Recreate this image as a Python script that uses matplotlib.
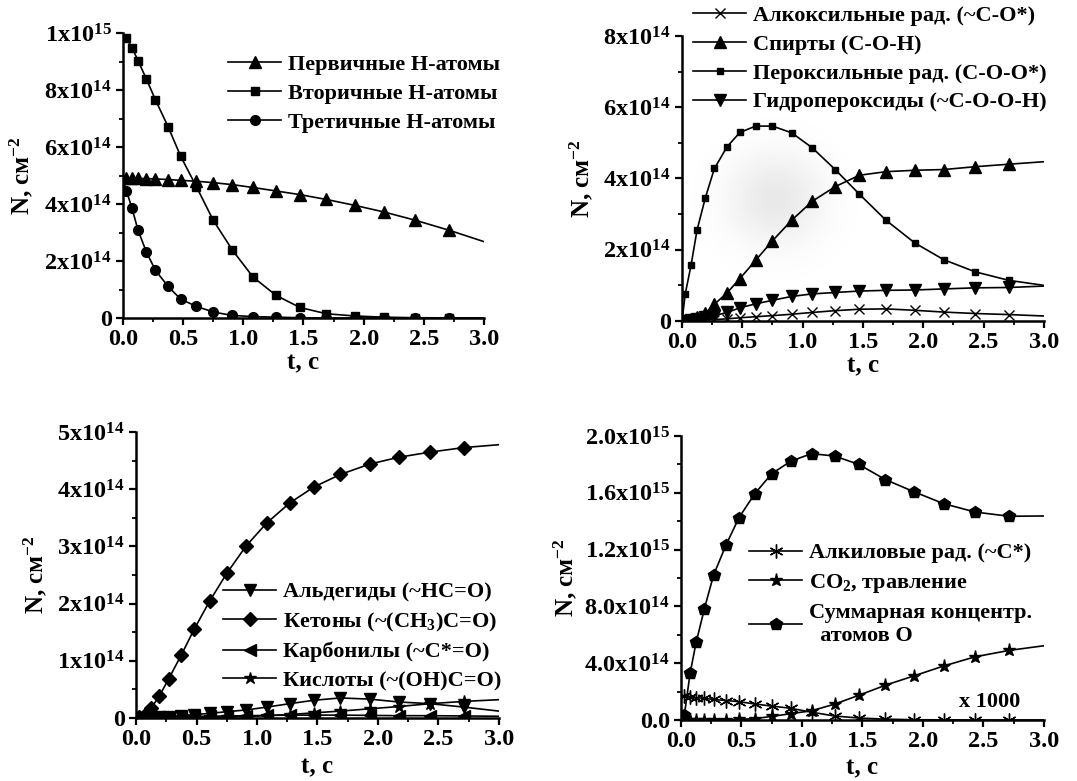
import numpy as np
import matplotlib
matplotlib.use("Agg")
import matplotlib.pyplot as plt
from matplotlib.ticker import MultipleLocator

plt.rcParams["font.family"] = ["Liberation Serif", "DejaVu Serif"]
plt.rcParams["font.weight"] = "bold"
plt.rcParams["mathtext.fontset"] = "custom"
plt.rcParams["mathtext.rm"] = "Liberation Serif:bold"
plt.rcParams["mathtext.bf"] = "Liberation Serif:bold"
plt.rcParams["mathtext.default"] = "bf"

# time grid of the calculation (markers at every point except first and last)
t = [0.0, 0.028, 0.075, 0.125, 0.194, 0.269, 0.374, 0.48, 0.61, 0.75,
     0.91, 1.08, 1.27, 1.47, 1.69, 1.93, 2.17, 2.43, 2.71, 3.0]

# panel 1: H atoms, units of 1e14 cm^-2
primary_h = [4.92, 4.92, 4.91, 4.90, 4.89, 4.88, 4.86, 4.83, 4.80, 4.75,
             4.68, 4.58, 4.46, 4.33, 4.16, 3.95, 3.72, 3.43, 3.08, 2.68]
secondary_h = [10.0, 9.82, 9.49, 9.03, 8.39, 7.66, 6.72, 5.67, 4.61, 3.43,
               2.38, 1.44, 0.80, 0.37, 0.15, 0.07, 0.03, 0.01, 0.005, 0.0]
tertiary_h = [4.9, 4.47, 3.85, 3.08, 2.32, 1.68, 1.11, 0.66, 0.41, 0.21,
              0.09, 0.05, 0.03, 0.01, 0.0, 0.0, 0.0, 0.0, 0.0, 0.0]

# panel 2
alkoxyl = [0.0, 0.005, 0.01, 0.02, 0.03, 0.04, 0.06, 0.09, 0.12, 0.15,
           0.19, 0.24, 0.29, 0.33, 0.34, 0.30, 0.25, 0.21, 0.18, 0.14]
alcohols = [0.0, 0.02, 0.06, 0.11, 0.22, 0.47, 0.79, 1.19, 1.70, 2.25,
            2.83, 3.36, 3.77, 4.09, 4.19, 4.23, 4.25, 4.33, 4.40, 4.47]
peroxyl = [0.0, 0.77, 1.56, 2.55, 3.46, 4.28, 4.89, 5.29, 5.47, 5.47,
           5.28, 4.86, 4.25, 3.56, 2.83, 2.19, 1.72, 1.38, 1.14, 1.00]
hydroperox = [0.0, 0.01, 0.03, 0.06, 0.10, 0.15, 0.24, 0.37, 0.48, 0.58,
              0.69, 0.76, 0.80, 0.84, 0.86, 0.87, 0.90, 0.93, 0.94, 0.98]

# panel 3
aldehydes = [0.0, 0.0, 0.005, 0.01, 0.015, 0.025, 0.04, 0.06, 0.08, 0.11,
             0.14, 0.19, 0.25, 0.31, 0.35, 0.33, 0.28, 0.25, 0.19, 0.12]
ketones = [0.0, 0.01, 0.06, 0.17, 0.39, 0.68, 1.10, 1.55, 2.05, 2.53,
           3.01, 3.41, 3.76, 4.04, 4.26, 4.44, 4.56, 4.65, 4.73, 4.78]
carbonyls = [0.0, 0.01, 0.01, 0.015, 0.02, 0.02, 0.025, 0.03, 0.03, 0.035,
             0.04, 0.045, 0.05, 0.05, 0.05, 0.045, 0.04, 0.04, 0.035, 0.03]
acids = [0.0, 0.0, 0.0, 0.0, 0.0, 0.0, 0.002, 0.005, 0.01, 0.015,
         0.025, 0.04, 0.06, 0.09, 0.12, 0.16, 0.20, 0.25, 0.29, 0.32]

# panel 4
alkyl = [1.70, 1.68, 1.64, 1.58, 1.52, 1.45, 1.37, 1.29, 1.13, 0.98,
         0.82, 0.55, 0.28, 0.14, 0.06, 0.02, 0.01, 0.0, 0.0, 0.0]
co2 = [0.0, 0.0, 0.005, 0.01, 0.01, 0.015, 0.02, 0.04, 0.10, 0.25,
       0.45, 0.65, 1.12, 1.74, 2.45, 3.12, 3.80, 4.45, 4.90, 5.23]
total_o = [0.0, 0.35, 3.28, 5.46, 7.85, 10.2, 12.36, 14.26, 15.94, 17.35,
           18.24, 18.76, 18.59, 18.0, 16.93, 16.06, 15.24, 14.65, 14.35, 14.37]

xticks = [0.0, 0.5, 1.0, 1.5, 2.0, 2.5, 3.0]
xticklabels = ["0.0", "0.5", "1.0", "1.5", "2.0", "2.5", "3.0"]

p1_yticks = [0, 2e14, 4e14, 6e14, 8e14, 1e15]
p1_ylabels = ["0", "2x10$^{14}$", "4x10$^{14}$", "6x10$^{14}$", "8x10$^{14}$", "1x10$^{15}$"]
p2_yticks = [0, 2e14, 4e14, 6e14, 8e14]
p2_ylabels = ["0", "2x10$^{14}$", "4x10$^{14}$", "6x10$^{14}$", "8x10$^{14}$"]
p3_yticks = [0, 1e14, 2e14, 3e14, 4e14, 5e14]
p3_ylabels = ["0", "1x10$^{14}$", "2x10$^{14}$", "3x10$^{14}$", "4x10$^{14}$", "5x10$^{14}$"]
p4_yticks = [0, 4e14, 8e14, 1.2e15, 1.6e15, 2.0e15]
p4_ylabels = ["0.0", "4.0x10$^{14}$", "8.0x10$^{14}$", "1.2x10$^{15}$", "1.6x10$^{15}$", "2.0x10$^{15}$"]

SCALE = 1e14
every = slice(1, 19)
tick_fs = 17.5
leg_fs = 16
lab_fs = 18


def setup_axes(ax, yticks, ylabels, yminor, ylabel_x, xlabel_y):
    for s in ["top", "right"]:
        ax.spines[s].set_visible(False)
    for s in ["left", "bottom"]:
        ax.spines[s].set_linewidth(1.8)
    ax.set_xlim(0, 3.0)
    ax.set_ylim(0, yticks[-1])
    ax.set_xticks(xticks)
    ax.set_xticklabels(xticklabels, fontsize=tick_fs, fontweight="bold")
    ax.set_yticks(yticks)
    ax.set_yticklabels(ylabels, fontsize=tick_fs, fontweight="bold")
    ax.xaxis.set_minor_locator(MultipleLocator(0.25))
    ax.yaxis.set_minor_locator(MultipleLocator(yminor))
    ax.tick_params(which="major", direction="out", length=5, width=1.6, pad=3)
    ax.tick_params(which="minor", direction="out", length=3, width=1.3)
    ax.set_xlabel("t, c", fontsize=lab_fs, fontweight="bold", va="center")
    ax.set_ylabel("N, см$^{-2}$", fontsize=lab_fs, fontweight="bold")
    ax.xaxis.set_label_coords(0.5, xlabel_y)
    ax.yaxis.set_label_coords(ylabel_x, 0.5)


def curve(ax, y, marker, label, ms):
    ax.plot(t, np.array(y) * SCALE, color="black", lw=1.2, marker=marker,
            ms=ms, markevery=every, label=label, mec="black", mfc="black")


def legend(ax, x, y):
    ax.legend(loc="upper left", bbox_to_anchor=(x, y),
              bbox_transform=fig.transFigure, frameon=False, fontsize=leg_fs,
              handlelength=2.4, handletextpad=0.3, labelspacing=0.37,
              borderpad=0, borderaxespad=0)


fig = plt.figure(figsize=(10.77, 7.81), dpi=100)

ax1 = fig.add_axes([0.1142, 0.5928, 0.3352, 0.3649])
curve(ax1, primary_h, "^", "Первичные Н-атомы", 8)
curve(ax1, secondary_h, "s", "Вторичные Н-атомы", 6)
curve(ax1, tertiary_h, "o", "Третичные Н-атомы", 7)
setup_axes(ax1, p1_yticks, p1_ylabels, 1e14, -0.245, -0.158)
legend(ax1, 0.2117, 0.930)

ax2 = fig.add_axes([0.6332, 0.589, 0.3361, 0.365])
# faint grey smudge from the scanned original
gy, gx = np.mgrid[-1:1:120j, -1:1:120j]
shade = np.zeros((120, 120, 4))
shade[..., 3] = 0.09 * np.exp(-(gx ** 2 + gy ** 2) / 0.3)
ax2.imshow(shade, extent=[0.05, 1.5, 1.0e14, 5.8e14], aspect="auto", zorder=0)
curve(ax2, alkoxyl, "x", "Алкоксильные рад. (~С-О*)", 7.5)
curve(ax2, alcohols, "^", "Спирты (С-О-Н)", 8)
curve(ax2, peroxyl, "s", "Пероксильные рад. (С-О-О*)", 5)
curve(ax2, hydroperox, "v", "Гидропероксиды (~С-О-О-Н)", 8)
setup_axes(ax2, p2_yticks, p2_ylabels, 1e14, -0.24, -0.158)
legend(ax2, 0.6435, 0.993)

ax3 = fig.add_axes([0.1263, 0.0807, 0.337, 0.366])
curve(ax3, aldehydes, "v", "Альдегиды (~НС=О)", 8)
curve(ax3, ketones, "D", "Кетоны (~(СН$_3$)С=О)", 7)
curve(ax3, carbonyls, "<", "Карбонилы (~С*=О)", 8)
curve(ax3, acids, "*", "Кислоты (~(ОН)С=О)", 9)
setup_axes(ax3, p3_yticks, p3_ylabels, 0.5e14, -0.24, -0.17)
legend(ax3, 0.207, 0.255)

ax4 = fig.add_axes([0.6323, 0.0781, 0.337, 0.3636])
curve(ax4, alkyl, (6, 2, 0), "Алкиловые рад. (~С*)", 10)
curve(ax4, co2, "*", "СО$_2$, травление", 9.5)
curve(ax4, total_o, "p", "Суммарная концентр.\n  атомов О", 9)
setup_axes(ax4, p4_yticks, p4_ylabels, 2e14, -0.28, -0.17)
ax4.text(2.3, 0.9e14, "x 1000", fontsize=leg_fs, fontweight="bold")
legend(ax4, 0.6954, 0.305)

fig.savefig("out.png", dpi=100)
